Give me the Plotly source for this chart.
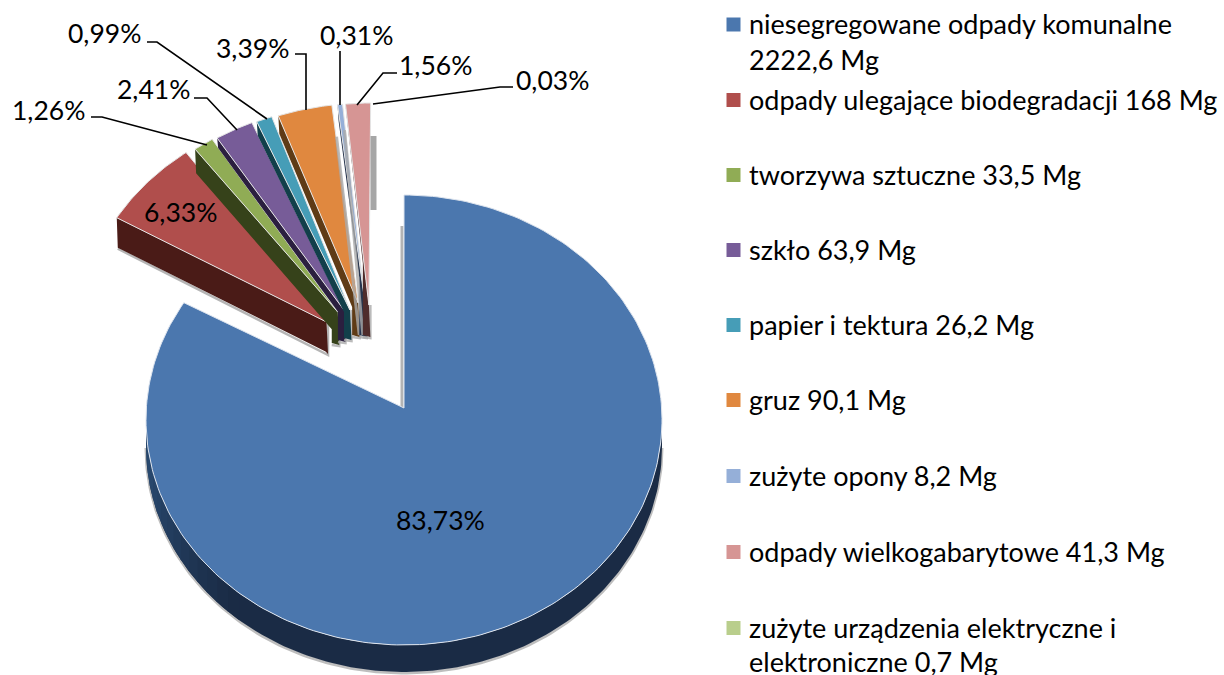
import numpy as np
import plotly.graph_objects as go

# --- data -------------------------------------------------------------
categories = [
    "niesegregowane odpady komunalne\n2222,6 Mg",
    "odpady ulegające biodegradacji 168 Mg",
    "tworzywa sztuczne 33,5 Mg",
    "szkło 63,9 Mg",
    "papier i tektura 26,2 Mg",
    "gruz 90,1 Mg",
    "zużyte opony 8,2 Mg",
    "odpady wielkogabarytowe 41,3 Mg",
    "zużyte urządzenia elektryczne i\nelektroniczne 0,7 Mg",
]
values = [2222.6, 168, 33.5, 63.9, 26.2, 90.1, 8.2, 41.3, 0.7]
top_colors = ["#4B77AE", "#B04E4C", "#90AC55", "#775C98", "#469DB7", "#E0883F", "#95AFD8", "#D69594", "#B9CE8C"]
side_colors = ["#1A2B45", "#4A1B17", "#36421A", "#2B1F3F", "#123F4A", "#5F3B16", "#26344D", "#4F2C2B", "#9A9A9A"]

# label placement in axis units (pixels of the frame): centre x, centre y
label_pos = [(440, 520), (180, 212), (48.5, 110), (153, 89), (104.5, 33), (252, 48), (356, 35), (435, 65), (552, 80)]
leaders = {
    2: [(91, 117), (102, 117), (207, 145)],
    3: [(194, 98), (207, 98), (237, 130)],
    4: [(147, 42), (157, 42), (267, 119)],
    5: [(295, 54), (306, 54), (306, 110)],
    6: [(340, 51), (340, 105)],
    7: [(397, 73), (383, 73), (357, 105)],
    8: [(513, 87), (500, 87), (373, 104)],
}
legend_y = [24.5, 100, 175, 250, 325, 400, 476, 552, 628]
legend_line_gap = [36, 36, 36, 36, 36, 36, 36, 36, 34]
# visible wall thickness of each exploded slice: along the cut, and at the apex
wall_outer = [0, 30, 24, 10, 14, 18, 16, 10, 0]
wall_apex = [0, 32, 33, 32, 30, 34, 32, 32, 0]
apex_y = [408, 322, 312, 310, 310, 303, 305, 305, 0]

FONT = "Lato"
FS_LABEL = 26.5
FS_LEGEND = 27
CX, CY, RX, RY = 404, 420, 258, 225   # ellipse of the pie top
AX, AY = 404, 408                     # apex of the pie in perspective
DEPTH = 27

total = sum(values)
cum = np.cumsum([0] + values) / total * 2 * np.pi


def rim(a, b, n=60):
    t = np.linspace(a, b, n)
    return CX + RX * np.sin(t), CY - RY * np.cos(t)


fig = go.Figure()


def poly(x, y, fill, line="rgba(0,0,0,0)", width=0):
    fig.add_trace(go.Scatter(x=list(x), y=list(y), mode="lines", fill="toself", fillcolor=fill,
                             line=dict(color=line, width=width), hoverinfo="skip", showlegend=False))


def stroke(x, y, color, width):
    fig.add_trace(go.Scatter(x=list(x), y=list(y), mode="lines", line=dict(color=color, width=width),
                             hoverinfo="skip", showlegend=False))


# big slice: wall (with a soft shadow), then the top
xw, yw = rim(np.pi * 0.5, np.pi * 1.5, 160)
stroke(xw, yw + DEPTH + 1, "rgba(110,110,110,0.45)", 3)
poly(np.r_[xw, xw[::-1]], np.r_[yw + DEPTH, yw[::-1]], side_colors[0])
# lighter part of the wall towards the left
steps = np.linspace(np.pi * 1.22, np.pi * 1.5, 16)
for i in range(len(steps) - 1):
    xs, ys = rim(steps[i], steps[i + 1] + 0.004, 8)
    f = i / (len(steps) - 2)
    col = "rgb(%d,%d,%d)" % (26 + 18 * f, 43 + 36 * f, 69 + 50 * f)
    poly(np.r_[xs, xs[::-1]], np.r_[ys + DEPTH, ys[::-1]], col)
xr, yr = rim(cum[0], cum[1], 240)
# thin grey cut edge on the vertical side of the big slice
stroke([AX - 2, AX - 2], [226, AY], "#B4B4B4", 3)
poly(np.r_[AX, xr, AX], np.r_[AY, yr, AY], top_colors[0], "#DDE4EE", 1)

# exploded slices, painted left to right
for i in range(1, len(values)):
    a, b = cum[i], cum[i + 1]
    m = (a + b) / 2
    s, c = np.sin(m), np.cos(m)
    ox, oy = -30.4 + 50 * s, -70 - 22 * c
    px, py = AX - 32 + 62 * s, apex_y[i]
    x, y = rim(a, b, 30)
    x, y = x + ox, y + oy
    if i == len(values) - 1:
        stroke([373.5, 373.5], [136, 210], "rgba(150,150,150,0.85)", 6)
        continue
    ho, ha = wall_outer[i], wall_apex[i]
    # knee of the wall's lower edge, a little left of the apex strip
    kx = px - (1 if i == 1 else 6)
    ky = y[0] + (py - y[0]) * (kx - x[0]) / (px - x[0])
    wx = [x[0], px, px + 1.5, kx, kx, x[0] + 1]
    wy = [y[0], py, py + ha, py + ha - 2, ky + ho, y[0] + ho]
    # soft shadow under the wall: full length for the large slice, only at the apex for the others
    if i == 1:
        stroke([x[0] + 1, kx, px + 1.5, px + 1.5], [y[0] + ho + 1, py + ha, py + ha + 1, py],
               "rgba(150,150,150,0.7)", 2.5)
    else:
        stroke([kx, px + 1.5, px + 1.5], [py + ha, py + ha + 1, py], "rgba(170,170,170,0.8)", 2.5)
    if i in (6, 7):
        stroke([x[0] - 1, kx], [y[0] + ho + 16, py + ha - 2], "rgba(170,170,170,0.8)", 3)
    poly(wx, wy, side_colors[i])
    poly(np.r_[px, x, px], np.r_[py, y, py], top_colors[i], "#E4E4E4", 1)

# leader lines
for pts in leaders.values():
    stroke([p[0] for p in pts], [p[1] for p in pts], "#000000", 1.6)

# percentage labels, derived from the values
for v, (lx, ly) in zip(values, label_pos):
    fig.add_annotation(x=lx, y=ly, text=f"{v / total * 100:.2f}%".replace(".", ","), showarrow=False,
                       xanchor="center", yanchor="middle", font=dict(family=FONT, size=FS_LABEL, color="#000000"))

# legend
for name, col, ly, gap in zip(categories, top_colors, legend_y, legend_line_gap):
    fig.add_trace(go.Scatter(x=[733.5], y=[ly], mode="markers", name=name.replace("\n", " "),
                             marker=dict(symbol="square", size=14, color=col), hoverinfo="name", showlegend=False))
    for k, line in enumerate(name.split("\n")):
        fig.add_annotation(x=747, y=ly - 1 + k * gap, text=line, showarrow=False, xanchor="left", yanchor="middle",
                           font=dict(family=FONT, size=FS_LEGEND, color="#000000"))

fig.update_layout(
    width=1224, height=675, margin=dict(l=0, r=0, t=0, b=0),
    paper_bgcolor="#FFFFFF", plot_bgcolor="#FFFFFF", showlegend=False,
    xaxis=dict(range=[0, 1224], visible=False, fixedrange=True),
    yaxis=dict(range=[675, 0], visible=False, fixedrange=True),
)
fig.write_html("out.html", config=dict(displayModeBar=False), post_script="document.body.style.margin='0';")
